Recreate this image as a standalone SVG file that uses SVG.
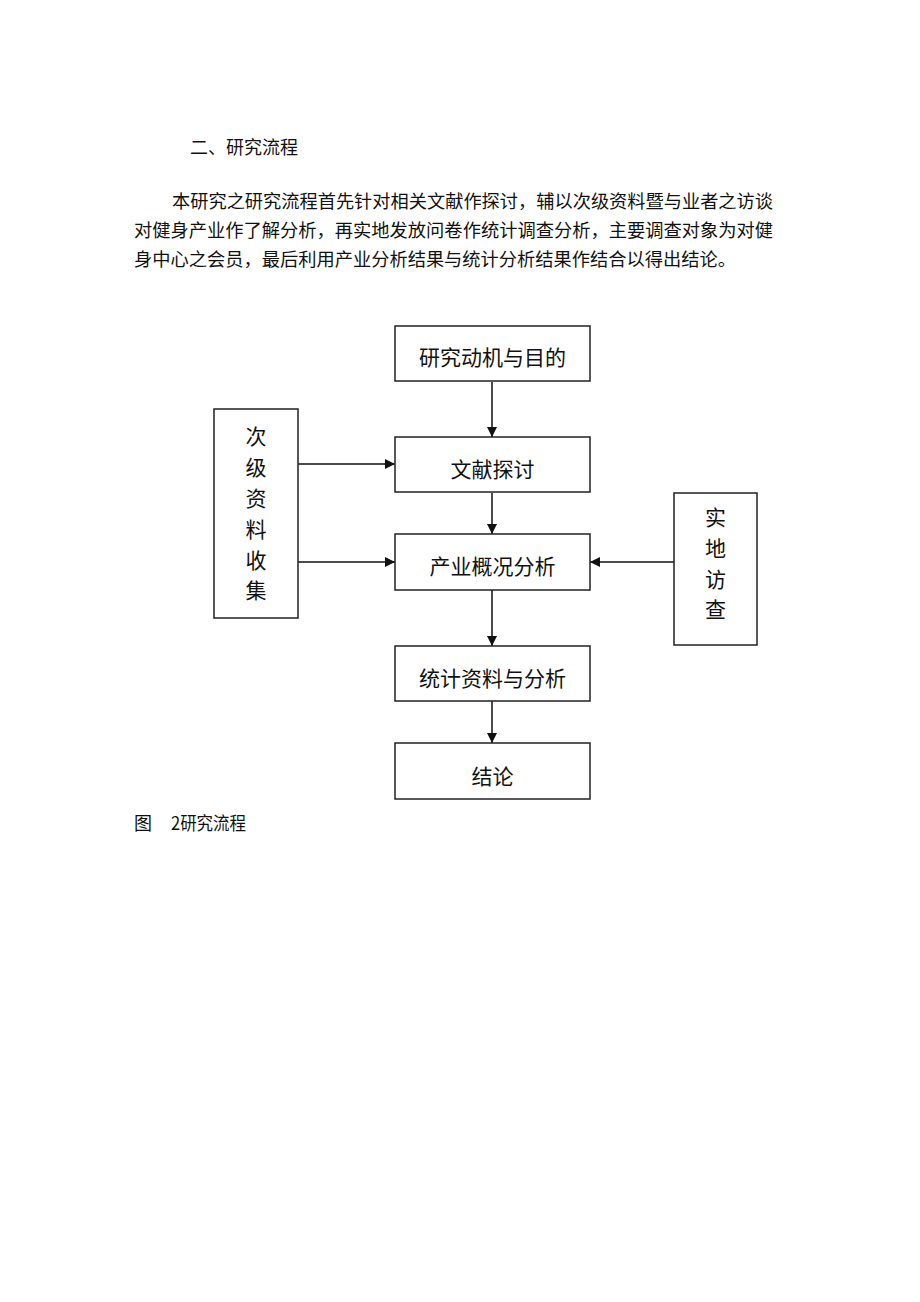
<svg xmlns="http://www.w3.org/2000/svg" width="920" height="1302" viewBox="0 0 920 1302">
<style>
text{font-family:"Noto Sans CJK SC","Liberation Serif",sans-serif;fill:#111}
.p{font-size:18px}
.b{font-size:21px;text-anchor:middle}
rect{fill:#fff;stroke:#222;stroke-width:1.5}
.c line{stroke:#111;stroke-width:1.5}
</style>
<defs>
<marker id="ah" viewBox="0 0 10 10" refX="10" refY="5" markerWidth="10" markerHeight="10" markerUnits="userSpaceOnUse" orient="auto">
<path d="M0,0 L10,5 L0,10 z" fill="#111"/>
</marker>
</defs>
<rect width="920" height="1302" style="fill:#fff;stroke:none"/>
<text class="p" x="190" y="154">二、研究流程</text>
<text class="p" x="172" y="208" textLength="601" lengthAdjust="spacingAndGlyphs">本研究之研究流程首先针对相关文献作探讨，辅以次级资料暨与业者之访谈</text>
<text class="p" x="134" y="237" textLength="639" lengthAdjust="spacingAndGlyphs">对健身产业作了解分析，再实地发放问卷作统计调查分析，主要调查对象为对健</text>
<text class="p" x="134" y="266" textLength="602" lengthAdjust="spacingAndGlyphs">身中心之会员，最后利用产业分析结果与统计分析结果作结合以得出结论。</text>
<g class="c">
<line x1="492" y1="382" x2="492" y2="437" marker-end="url(#ah)"/>
<line x1="492" y1="493" x2="492" y2="534" marker-end="url(#ah)"/>
<line x1="492" y1="590" x2="492" y2="646" marker-end="url(#ah)"/>
<line x1="492" y1="701" x2="492" y2="743" marker-end="url(#ah)"/>
<line x1="298" y1="464" x2="395" y2="464" marker-end="url(#ah)"/>
<line x1="298" y1="562" x2="395" y2="562" marker-end="url(#ah)"/>
<line x1="674" y1="562" x2="590" y2="562" marker-end="url(#ah)"/>
</g>
<g id="n1"><rect x="395" y="326" width="195" height="55"/><text class="b" x="492.5" y="365">研究动机与目的</text></g>
<g id="n2"><rect x="395" y="437" width="195" height="55"/><text class="b" x="492.5" y="477">文献探讨</text></g>
<g id="n3"><rect x="395" y="534" width="195" height="56"/><text class="b" x="492.5" y="574">产业概况分析</text></g>
<g id="n4"><rect x="395" y="646" width="195" height="55"/><text class="b" x="492.5" y="686">统计资料与分析</text></g>
<g id="n5"><rect x="395" y="743" width="195" height="56"/><text class="b" x="492.5" y="784">结论</text></g>
<g id="n6"><rect x="214" y="409" width="84" height="209"/>
<text class="b" x="256" y="444">次</text><text class="b" x="256" y="475">级</text><text class="b" x="256" y="506">资</text><text class="b" x="256" y="537">料</text><text class="b" x="256" y="568">收</text><text class="b" x="256" y="598">集</text></g>
<g id="n7"><rect x="674" y="493" width="83" height="152"/>
<text class="b" x="715.5" y="525">实</text><text class="b" x="715.5" y="556">地</text><text class="b" x="715.5" y="587">访</text><text class="b" x="715.5" y="617">查</text></g>
<text class="p" x="134" y="830">图</text><text class="p" x="171" y="830" textLength="75" lengthAdjust="spacingAndGlyphs">2研究流程</text>
</svg>
